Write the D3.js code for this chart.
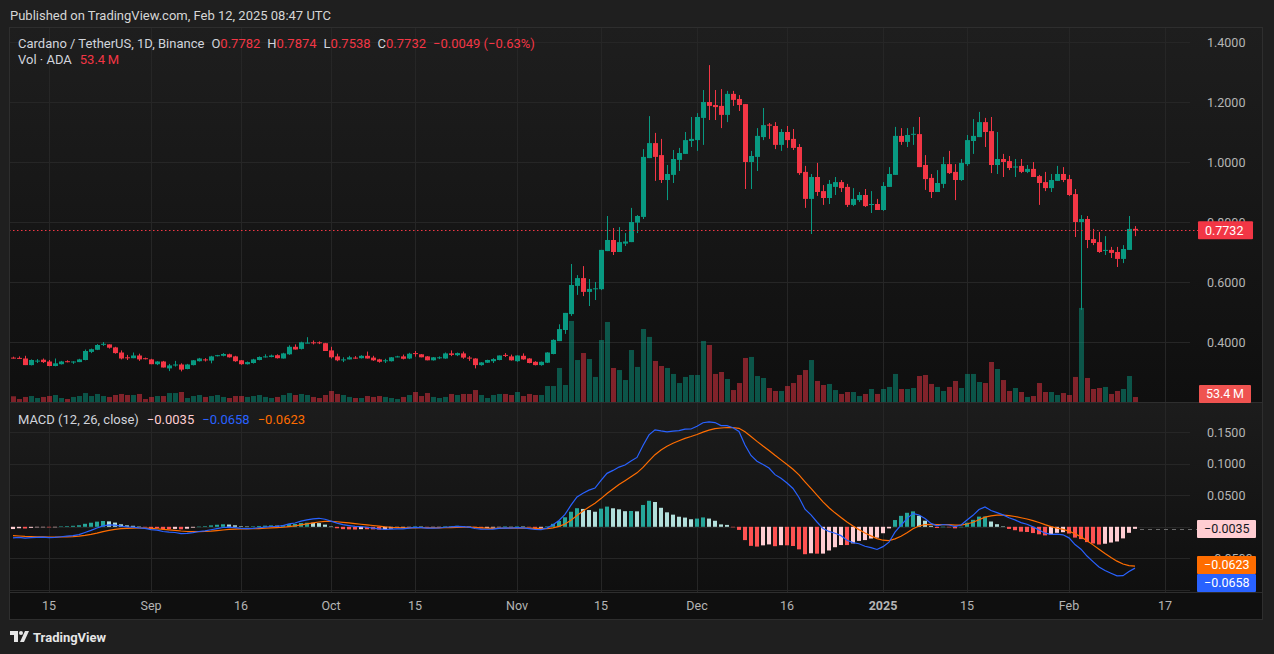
<!DOCTYPE html>
<html>
<head>
<meta charset="utf-8">
<script src="https://cdn.jsdelivr.net/npm/d3@7"></script>
<style>
  html, body { margin: 0; padding: 0; background: #1f1f1f; }
  svg { display: block; font-family: Roboto, "Noto Sans", sans-serif; }
</style>
</head>
<body>
<svg id="chart" width="1274" height="654"></svg>
<script>
// ADA/USDT daily candles, Aug 9 2024 -> Feb 12 2025
var firstDay = new Date(Date.UTC(2024, 7, 9));
var lastDay = new Date(Date.UTC(2025, 1, 12));

var opens = [
  .349,.348,.346,.324,.337,.342,.336,.321,.327,.337,
  .335,.334,.341,.368,.375,.393,.393,.383,.366,.350,
  .347,.356,.347,.343,.327,.336,.313,.324,.326,.311,
  .324,.337,.343,.339,.354,.355,.360,.353,.340,.327,
  .331,.341,.352,.351,.357,.346,.360,.385,.378,.398,
  .400,.400,.397,.373,.353,.342,.343,.349,.347,.355,
  .349,.343,.338,.337,.351,.353,.346,.364,.360,.353,
  .340,.349,.346,.363,.357,.363,.349,.346,.324,.332,
  .337,.341,.358,.353,.337,.355,.346,.335,.324,.332,
  .361,.404,.441,.494,.588,.614,.568,.578,.577,.704,
  .741,.701,.729,.734,.799,.818,1.014,1.064,1.024,.941,
  .958,1.008,1.028,1.071,1.074,1.148,1.201,1.191,1.188,1.158,
  1.228,1.211,1.194,1.001,1.018,1.084,1.126,1.121,1.058,1.101,
  1.078,1.051,.968,.878,.951,.904,.881,.918,.934,.918,
  .858,.874,.891,.858,.861,.841,.918,.958,1.088,1.068,
  1.092,1.094,.991,.948,.901,.928,.994,.968,.941,.994,
  1.071,1.084,1.134,1.104,.991,1.011,1.004,.983,.988,.968,
  .978,.954,.934,.914,.938,.961,.944,.894,.801,.811,
  .744,.734,.705,.708,.701,.678,.708,.7782
];
var highs = [
  .352,.353,.355,.343,.344,.346,.341,.346,.338,.340,
  .337,.345,.376,.379,.394,.401,.393,.385,.373,.358,
  .366,.362,.349,.345,.337,.338,.328,.338,.330,.328,
  .341,.348,.347,.355,.358,.364,.362,.355,.341,.336,
  .345,.353,.360,.359,.360,.365,.390,.393,.402,.417,
  .406,.403,.398,.385,.362,.350,.355,.354,.357,.369,
  .355,.345,.345,.351,.355,.359,.365,.371,.361,.354,
  .351,.353,.366,.373,.366,.369,.354,.347,.334,.342,
  .347,.356,.364,.359,.357,.363,.347,.337,.336,.367,
  .410,.460,.498,.661,.624,.654,.611,.601,.708,.821,
  .781,.784,.764,.848,.824,1.044,1.154,1.098,1.078,.991,
  1.041,1.048,1.101,1.151,1.164,1.241,1.324,1.241,1.244,1.238,
  1.238,1.224,1.194,1.038,1.114,1.181,1.131,1.134,1.111,1.121,
  1.111,1.061,.988,.961,.998,.924,.941,.951,.941,.928,
  .914,.901,.911,.904,.878,.934,.984,1.118,1.114,1.114,
  1.118,1.151,1.024,.961,.974,1.018,1.038,.994,1.011,1.091,
  1.144,1.168,1.148,1.151,1.101,1.028,1.021,1.011,1.011,.991,
  1.001,.958,.968,.961,.988,.984,.958,.911,.824,.821,
  .778,.768,.754,.718,.718,.724,.821,.7874
];
var lows = [
  .346,.345,.324,.323,.331,.331,.320,.320,.326,.333,
  .328,.334,.340,.364,.374,.388,.379,.362,.343,.341,
  .347,.338,.343,.327,.324,.316,.304,.319,.303,.310,
  .323,.336,.336,.330,.353,.353,.349,.335,.325,.326,
  .329,.340,.349,.350,.346,.346,.358,.376,.376,.397,
  .393,.394,.371,.346,.337,.334,.343,.345,.346,.346,
  .338,.332,.331,.336,.350,.343,.344,.352,.350,.340,
  .339,.344,.345,.354,.354,.345,.338,.313,.322,.331,
  .331,.340,.351,.339,.335,.342,.330,.323,.322,.331,
  .360,.404,.428,.488,.558,.554,.521,.541,.574,.704,
  .691,.701,.721,.734,.764,.811,1.014,.938,.931,.874,
  .931,.971,1.028,1.051,1.038,1.058,1.141,1.141,1.114,1.134,
  1.188,1.171,.911,.911,.971,1.074,1.078,1.044,1.038,1.048,
  1.041,.958,.848,.761,.888,.858,.861,.891,.901,.851,
  .854,.868,.851,.831,.841,.838,.918,.958,1.058,1.051,
  1.058,.984,.908,.881,.901,.914,.961,.874,.938,.988,
  1.028,1.084,1.051,.964,.961,.951,.974,.951,.964,.964,
  .951,.858,.904,.901,.938,.934,.888,.751,.508,.714,
  .724,.698,.691,.681,.651,.664,.708,.7538
];
var closes = [
  .348,.347,.324,.341,.339,.334,.321,.330,.336,.335,
  .336,.343,.371,.377,.391,.395,.382,.364,.346,.348,
  .356,.343,.345,.327,.336,.316,.323,.326,.309,.326,
  .340,.346,.341,.353,.357,.361,.350,.337,.327,.334,
  .343,.351,.353,.356,.347,.363,.385,.376,.400,.399,
  .398,.398,.371,.350,.340,.343,.350,.347,.355,.346,
  .340,.335,.340,.350,.353,.345,.362,.362,.350,.340,
  .350,.350,.363,.358,.364,.349,.347,.324,.333,.341,
  .344,.356,.356,.340,.356,.343,.331,.324,.335,.366,
  .408,.444,.498,.591,.614,.568,.578,.580,.708,.741,
  .701,.734,.736,.801,.821,1.018,1.064,1.018,.941,.961,
  1.011,1.031,1.074,1.078,1.151,1.201,1.188,1.184,1.158,1.228,
  1.208,1.191,1.001,1.021,1.088,1.124,1.122,1.058,1.101,1.074,
  1.048,.964,.878,.951,.901,.881,.928,.934,.914,.858,
  .878,.891,.854,.861,.841,.921,.961,1.088,1.068,1.091,
  1.095,.984,.944,.901,.931,.994,.964,.941,.998,1.074,
  1.088,1.134,1.101,.991,1.011,1.001,.981,.986,.968,.978,
  .951,.931,.914,.941,.961,.941,.891,.801,.811,.741,
  .731,.701,.708,.698,.678,.711,.778,.7732
];
// volume in millions of ADA
var volumes = [
  61,32,54,64,43,54,64,75,43,32,
  54,64,96,64,86,64,54,75,86,75,
  75,86,32,54,64,64,96,96,107,43,
  64,75,54,64,75,54,43,64,64,54,
  64,75,54,43,54,75,96,75,86,75,
  54,43,75,118,86,75,54,43,43,64,
  54,64,54,43,32,54,75,107,64,96,
  54,43,54,86,75,86,86,128,75,43,
  75,86,86,75,107,64,86,75,75,171,
  171,364,182,867,449,524,460,268,663,856,
  364,342,235,556,375,781,696,439,385,364,
  300,203,268,289,289,653,610,300,321,246,
  128,203,471,482,278,257,150,118,118,171,
  203,289,342,449,225,182,193,128,86,107,
  107,64,86,139,86,139,161,300,139,139,
  150,278,289,193,161,118,161,225,150,300,
  300,214,203,428,353,235,118,150,107,54,
  64,203,107,107,75,96,75,268,1006,257,
  139,150,161,86,118,139,278,53.4
];

// MACD (12, 26, close): EMA state on Aug 8
var ema12Start = 0.356, ema26Start = 0.3743, signalStart = -0.0131;
var lastHist = -0.0035, lastMacd = -0.0658, lastSignal = -0.0623;

var priceTicks = [0.4, 0.6, 0.8, 1.0, 1.2, 1.4];
var macdGrid = [-0.1, -0.05, 0, 0.05, 0.1, 0.15];
var macdLabels = [-0.05, 0.05, 0.1, 0.15];
var tickDates = ['2024-08-15','2024-09-01','2024-09-16','2024-10-01','2024-10-15','2024-11-01',
  '2024-11-15','2024-12-01','2024-12-16','2025-01-01','2025-01-15','2025-02-01','2025-02-17'];
var tickLabels = ['15','Sep','16','Oct','15','Nov','15','Dec','16','2025','15','Feb','17'];

var UP = '#089981', DOWN = '#F23645';

var svg = d3.select('#chart');
var W = 1274, H = 654;
var frame = { left: 9, right: 1263, top: 27, bottom: 620 };
var plotRight = 1190;
var pricePane = { top: 27, bottom: 402 };
var macdPane = { top: 403, bottom: 592 };

var days = d3.utcDay.range(firstDay, d3.utcDay.offset(lastDay, 1));
var bars = days.map(function(d, i) {
  return { date: d, o: opens[i], h: highs[i], l: lows[i], c: closes[i], v: volumes[i] };
});

function ema(values, n, seed) {
  var k = 2 / (n + 1), prev = seed;
  return values.map(function(v) { prev = v * k + prev * (1 - k); return prev; });
}
var e12 = ema(closes, 12, ema12Start);
var e26 = ema(closes, 26, ema26Start);
var macd = e12.map(function(v, i) { return v - e26[i]; });
var signal = ema(macd, 9, signalStart);
var hist = macd.map(function(v, i) { return v - signal[i]; });

var x = d3.scaleUtc().domain([firstDay, lastDay]).range([13, 1135]);
var y = d3.scaleLinear().domain([0.4, 1.4]).range([342.3, 42.3]);
var yVol = d3.scaleLinear().domain([0, 1000]).range([402, 308.5]);
var yMacd = d3.scaleLinear().domain([-0.05, 0.15]).range([558.3, 432.3]);

// backgrounds
var defs = svg.append('defs');
function grad(id, top, bottom) {
  var g = defs.append('linearGradient').attr('id', id).attr('x1', 0).attr('x2', 0).attr('y1', 0).attr('y2', 1);
  g.append('stop').attr('offset', '0%').attr('stop-color', top);
  g.append('stop').attr('offset', '100%').attr('stop-color', bottom);
}
grad('bgPrice', '#1e1e1e', '#0f0f0f');
grad('bgMacd', '#1c1c1c', '#0f0f0f');
defs.append('clipPath').attr('id', 'clipPrice').append('rect')
  .attr('x', frame.left).attr('y', pricePane.top).attr('width', plotRight - frame.left).attr('height', pricePane.bottom - pricePane.top);
defs.append('clipPath').attr('id', 'clipMacd').append('rect')
  .attr('x', frame.left).attr('y', macdPane.top).attr('width', plotRight - frame.left).attr('height', macdPane.bottom - macdPane.top);

svg.append('rect').attr('width', W).attr('height', H).attr('fill', '#1f1f1f');
svg.append('rect').attr('x', frame.left).attr('y', pricePane.top).attr('width', frame.right - frame.left)
  .attr('height', pricePane.bottom - pricePane.top).attr('fill', 'url(#bgPrice)');
svg.append('rect').attr('x', frame.left).attr('y', macdPane.top).attr('width', frame.right - frame.left)
  .attr('height', macdPane.bottom - macdPane.top).attr('fill', 'url(#bgMacd)');
svg.append('rect').attr('x', frame.left).attr('y', macdPane.bottom).attr('width', frame.right - frame.left)
  .attr('height', frame.bottom - macdPane.bottom).attr('fill', '#0f0f0f');

// grid
var grid = svg.append('g').attr('stroke', '#262626').attr('stroke-width', 1);
tickDates.forEach(function(t) {
  var gx = Math.round(x(new Date(t + 'T00:00:00Z'))) + 0.5;
  grid.append('line').attr('x1', gx).attr('x2', gx).attr('y1', frame.top).attr('y2', macdPane.bottom);
});
priceTicks.forEach(function(p) {
  var gy = Math.round(y(p)) + 0.5;
  grid.append('line').attr('x1', frame.left).attr('x2', plotRight).attr('y1', gy).attr('y2', gy);
});
macdGrid.forEach(function(m) {
  var gy = Math.round(yMacd(m)) + 0.5;
  grid.append('line').attr('x1', frame.left).attr('x2', plotRight).attr('y1', gy).attr('y2', gy);
});

// volume
var bw = 5;
var price = svg.append('g').attr('clip-path', 'url(#clipPrice)');
price.selectAll('.vol').data(bars).enter().append('rect')
  .attr('class', 'vol')
  .attr('x', function(d) { return Math.round(x(d.date)) - 2; })
  .attr('width', bw)
  .attr('y', function(d) { return yVol(d.v); })
  .attr('height', function(d) { return yVol(0) - yVol(d.v); })
  .attr('fill', function(d) { return d.c >= d.o ? UP : DOWN; })
  .attr('fill-opacity', 0.5);

// candles
var candle = price.selectAll('.candle').data(bars).enter().append('g').attr('class', 'candle');
candle.append('line')
  .attr('x1', function(d) { return Math.round(x(d.date)) + 0.5; })
  .attr('x2', function(d) { return Math.round(x(d.date)) + 0.5; })
  .attr('y1', function(d) { return y(d.h); })
  .attr('y2', function(d) { return y(d.l); })
  .attr('stroke', function(d) { return d.c >= d.o ? UP : DOWN; });
candle.append('rect')
  .attr('x', function(d) { return Math.round(x(d.date)) - 2; })
  .attr('width', bw)
  .attr('y', function(d) { return y(Math.max(d.o, d.c)); })
  .attr('height', function(d) { return Math.max(1, Math.abs(y(d.o) - y(d.c))); })
  .attr('fill', function(d) { return d.c >= d.o ? UP : DOWN; });

// last price line
var lastClose = closes[closes.length - 1];
svg.append('line').attr('x1', frame.left).attr('x2', 1198)
  .attr('y1', Math.round(y(lastClose)) + 0.5).attr('y2', Math.round(y(lastClose)) + 0.5)
  .attr('stroke', DOWN).attr('stroke-dasharray', '1.5,2.5');

// MACD pane
var mp = svg.append('g').attr('clip-path', 'url(#clipMacd)');
mp.selectAll('.hist').data(hist).enter().append('rect')
  .attr('class', 'hist')
  .attr('x', function(d, i) { return Math.round(x(days[i])) - 2; })
  .attr('width', 4)
  .attr('y', function(d) { return Math.min(yMacd(d), yMacd(0)); })
  .attr('height', function(d) { return Math.max(0.5, Math.abs(yMacd(d) - yMacd(0))); })
  .attr('fill', function(d, i) {
    var prev = i > 0 ? hist[i - 1] : d;
    if (d >= 0) return d > prev ? '#26A69A' : '#B2DFDB';
    return d < prev ? '#FF5252' : '#FFCDD2';
  });
var line = d3.line().x(function(d, i) { return x(days[i]); }).y(function(d) { return yMacd(d); });
mp.append('path').datum(signal).attr('d', line).attr('fill', 'none').attr('stroke', '#FF6D00').attr('stroke-width', 1.2);
mp.append('path').datum(macd).attr('d', line).attr('fill', 'none').attr('stroke', '#2962FF').attr('stroke-width', 1.2);
svg.append('line').attr('x1', 1140).attr('x2', 1197)
  .attr('y1', Math.round(yMacd(lastHist)) + 0.5).attr('y2', Math.round(yMacd(lastHist)) + 0.5)
  .attr('stroke', '#6a6a6a').attr('stroke-dasharray', '4,4');

// separators and frame
var sep = svg.append('g').attr('stroke', '#2e2e2e').attr('fill', 'none');
sep.append('line').attr('x1', frame.left).attr('x2', frame.right).attr('y1', 402.5).attr('y2', 402.5);
sep.append('line').attr('x1', frame.left).attr('x2', frame.right).attr('y1', 592.5).attr('y2', 592.5);
sep.append('rect').attr('x', frame.left + 0.5).attr('y', frame.top + 0.5)
  .attr('width', frame.right - frame.left - 1).attr('height', frame.bottom - frame.top - 1);

// axis labels
var axisColor = '#b5b5b5';
svg.append('g').selectAll('text').data(priceTicks).enter().append('text')
  .attr('x', 1207).attr('y', function(d) { return y(d); }).attr('dy', '0.35em')
  .attr('fill', axisColor).attr('font-size', 12.5)
  .text(function(d) { return d3.format('.4f')(d); });
svg.append('g').selectAll('text').data(macdLabels).enter().append('text')
  .attr('x', 1207).attr('y', function(d) { return yMacd(d); }).attr('dy', '0.35em')
  .attr('fill', axisColor).attr('font-size', 12.5)
  .text(function(d) { return d3.format('.4f')(d).replace('-', '\u2212'); });
svg.append('g').selectAll('text').data(tickDates).enter().append('text')
  .attr('x', function(d) { return x(new Date(d + 'T00:00:00Z')); })
  .attr('y', 606).attr('dy', '0.35em').attr('text-anchor', 'middle')
  .attr('fill', axisColor).attr('font-size', 12.5)
  .attr('font-weight', function(d, i) { return tickLabels[i] === '2025' ? 'bold' : null; })
  .text(function(d, i) { return tickLabels[i]; });

// tags on the scales
function tag(yc, bg, fg, txt, x0, x1) {
  var g = svg.append('g');
  g.append('rect').attr('x', x0).attr('y', yc - 9).attr('width', x1 - x0).attr('height', 18).attr('fill', bg).attr('rx', 1);
  g.append('text').attr('x', x0 + 7).attr('y', yc).attr('dy', '0.35em').attr('fill', fg).attr('font-size', 12.5).text(txt);
}
var fmt = function(v) { return d3.format('.4f')(v).replace('-', '\u2212'); };
tag(y(lastClose), DOWN, '#ffffff', fmt(lastClose), 1198, 1253);
tag(394, '#EF5350', '#ffffff', '53.4\u2009M', 1199, 1251);
tag(yMacd(lastHist), '#FFCDD2', '#131722', fmt(lastHist), 1197, 1256);
tag(565, '#FF6D00', '#ffffff', fmt(lastSignal), 1197, 1256);
tag(583, '#2962FF', '#ffffff', fmt(lastMacd), 1197, 1256);

// legends
svg.append('text').attr('x', 10).attr('y', 15).attr('dy', '0.35em').attr('fill', '#d6d6d6').attr('font-size', 13)
  .text('Published on TradingView.com, Feb 12, 2025 08:47 UTC');

var gray = '#d1d4dc', red = '#F23645';
var l1 = svg.append('text').attr('x', 18).attr('y', 43).attr('dy', '0.35em').attr('font-size', 13);
[['Cardano / TetherUS, 1D, Binance', gray, 0], ['O', gray, 7], ['0.7782', red, 0], ['H', gray, 7], ['0.7874', red, 0],
 ['L', gray, 7], ['0.7538', red, 0], ['C', gray, 7], ['0.7732', red, 0], ['\u22120.0049 (\u22120.63%)', red, 7]]
  .forEach(function(p) { l1.append('tspan').attr('dx', p[2]).attr('fill', p[1]).text(p[0]); });
var l2 = svg.append('text').attr('x', 18).attr('y', 59).attr('dy', '0.35em').attr('font-size', 13);
l2.append('tspan').attr('fill', gray).text('Vol \u00b7 ADA');
l2.append('tspan').attr('dx', 8).attr('fill', red).text('53.4\u2009M');

var l3 = svg.append('text').attr('x', 18).attr('y', 419).attr('dy', '0.35em').attr('font-size', 13);
l3.append('tspan').attr('fill', gray).text('MACD (12, 26, close)');
l3.append('tspan').attr('dx', 8).attr('fill', '#FFCDD2').text(fmt(lastHist));
l3.append('tspan').attr('dx', 8).attr('fill', '#2962FF').text(fmt(lastMacd));
l3.append('tspan').attr('dx', 8).attr('fill', '#FF6D00').text(fmt(lastSignal));

// TradingView mark
var logo = svg.append('g').attr('fill', '#e6e6e6');
logo.append('path').attr('d', 'M10 631h8v11h-4v-7h-4z');
logo.append('circle').attr('cx', 21).attr('cy', 633).attr('r', 2);
logo.append('path').attr('d', 'M25 631h4l-5 11h-4z');
svg.append('text').attr('x', 33).attr('y', 637).attr('dy', '0.35em').attr('fill', '#e6e6e6')
  .attr('font-size', 13).attr('font-weight', 'bold').text('TradingView');
</script>
</body>
</html>
